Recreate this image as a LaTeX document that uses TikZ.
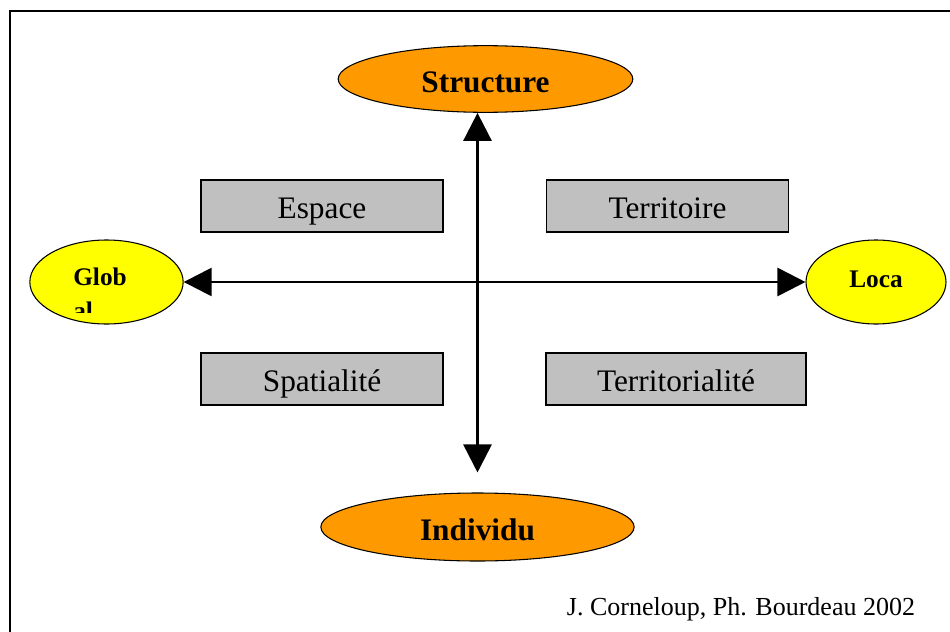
\documentclass[tikz,border=0pt]{standalone}
\usepackage{fontspec}
\setmainfont{Liberation Serif}
\usetikzlibrary{shapes.geometric, arrows.meta}

\definecolor{poleorange}{HTML}{FF9900}
\definecolor{scaleyellow}{HTML}{FFFF00}
\definecolor{boxgray}{HTML}{C0C0C0}

\begin{document}
\begin{tikzpicture}[x=0.75pt, y=-0.75pt]
\tikzset{PoleStyle/.style = {ellipse, draw, fill= poleorange, line width= 0.8pt, inner sep= 0pt, text height= 20pt, text depth= 0pt, font= \fontsize{23.5}{26}\selectfont\bfseries},
  ScaleStyle/.style = {ellipse, draw, fill= scaleyellow, line width= 0.8pt, inner sep= 0pt, minimum height= 63pt, text height= 7.5pt, text depth= 0pt, font= \fontsize{19}{22}\selectfont\bfseries},
  BoxStyle/.style = {draw, fill= boxgray, line width= 0.9pt, inner sep= 0pt, minimum height= 39pt, text height= 18pt, text depth= 0pt, font= \fontsize{23.5}{26}\selectfont},
  AxisStyle/.style = {{Triangle[length= 21pt, width= 21pt]}-{Triangle[length= 21pt, width= 21pt]}, line width= 2pt}
}
    \useasboundingbox (0,0) rectangle (950,632);

    % Frame
    \draw [line width= 1.5pt] (10,11) rectangle (965,650);

    % Poles
   \node[PoleStyle, minimum width= 221pt, minimum height= 50pt] (structure) at (485.5,79) {Structure};
   \node[PoleStyle, minimum width= 235pt, minimum height= 51pt] (individu) at (477.5,527) {Individu};

   \node[ScaleStyle, minimum width= 115pt] (global) at (106.5,282) {};
   \node[ScaleStyle, minimum width= 105pt] (local) at (876,282) {Loca};
   \begin{scope}
     \clip (30,240) rectangle (183,312);
     \node[anchor= north west, inner sep= 0pt, align= left, font= \fontsize{19}{25.5}\selectfont\bfseries] (globaltext) at (73,268) {Glob\\al};
   \end{scope}

    % Draw axes
   \draw [AxisStyle] (structure.south -| individu.north) -- (individu.north) [shorten >= 15pt];
   \draw [AxisStyle] (global.east) -- (local.west);

   \node[BoxStyle, minimum width= 181.5pt] (espace) at (322,206) {Espace};
   \node[BoxStyle, minimum width= 182pt] (territoire) at (667.5,206) {Territoire};

   \node[BoxStyle, minimum width= 181.5pt] (spatialite) at (322,379) {Spatialité};
   \node[BoxStyle, minimum width= 195pt] (territorialite) at (676,379) {Territorialité};

   \node[font= \fontsize{19.5}{22}\selectfont] (credits) at (741,609) {J. Corneloup, Ph. Bourdeau 2002};
\end{tikzpicture}
\end{document}
